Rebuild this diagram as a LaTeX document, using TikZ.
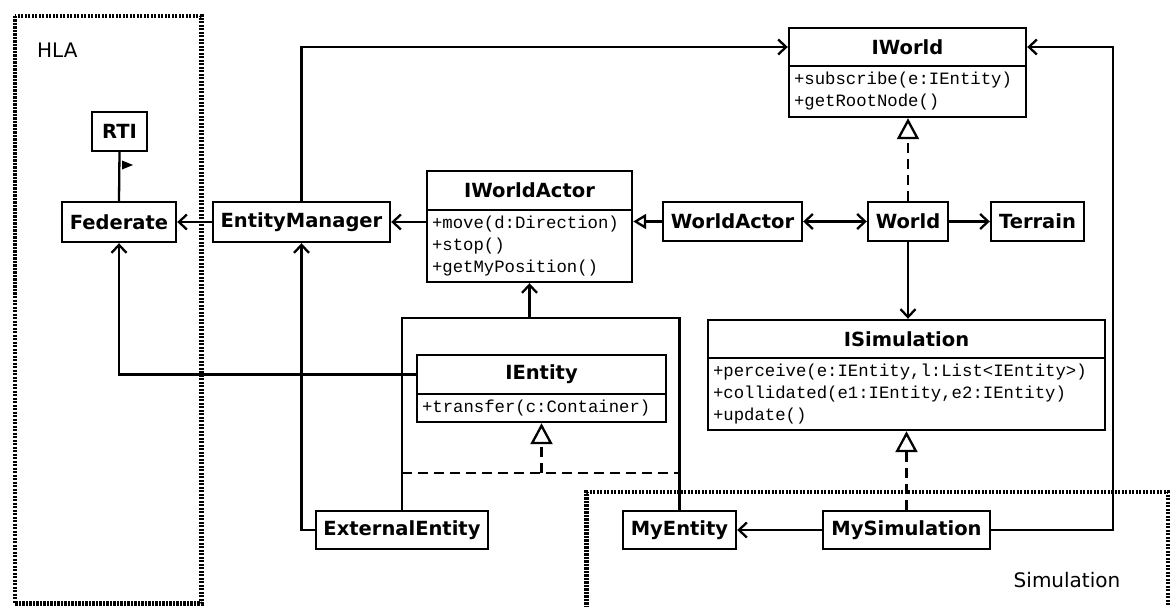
\documentclass[tikz,border=0pt]{standalone}
\usepackage{fontspec}
\setmainfont{DejaVu Sans}
\newfontfamily\methfont{Liberation Mono}
\usetikzlibrary{arrows.meta}

\begin{document}
\begin{tikzpicture}[x=1pt,y=-1pt,
  box/.style={draw, line width=2.4pt, fill=white, inner sep=0pt,
    font=\bfseries\fontsize{19.5}{22}\selectfont, minimum height=39pt},
  ops/.style={draw, line width=2.4pt, fill=white, inner sep=5pt,
    font=\methfont\fontsize{17.3}{22}\selectfont, align=left},
  label/.style={font=\fontsize{20}{24}\selectfont, inner sep=0pt},
  conn/.style={line width=2.3pt},
  assoc/.style={conn, -{Straight Barb[length=8pt,width=15pt]}},
  biassoc/.style={conn, {Straight Barb[length=8pt,width=15pt]}-{Straight Barb[length=8pt,width=15pt]}},
  gen/.style={conn, -{Triangle[open,length=13pt,width=15pt]}},
  realize/.style={conn, dash pattern=on 10pt off 6pt,
    -{Triangle[open,length=21pt,width=22pt]}},
  dashline/.style={conn, dash pattern=on 10pt off 6pt},
  package/.style={line width=4.8pt, dash pattern=on 2.2pt off 1.3pt},
]
\useasboundingbox (0,0) rectangle (1170,607);
\fill[white] (0,0) rectangle (1170,607);

% package frames
\draw[package] (15,16) rectangle (201.7,603.5);
\draw[package] (586.5,615) -- (586.5,492) -- (1168,492) -- (1168,615);
\node[label, anchor=west] (hla) at (37,50) {HLA};
\node[label] (simpkg) at (1067,580) {Simulation};

% classes
\node[box, minimum width=55pt] (rti) at (119.5,131.5) {RTI};
\node[box, minimum width=114pt, minimum height=40pt] (fed) at (119,222) {Federate};
\node[box, minimum width=177pt, minimum height=40pt] (em) at (301.5,222) {EntityManager};

\node[box, minimum width=205pt] (iwa) at (529.5,190.5) {IWorldActor};
\node[ops, minimum width=205pt, text width=195pt, minimum height=72pt] (iwaops) at (529.5,246)
  {+move(d:Direction)\\+stop()\\+getMyPosition()};

\node[box, minimum width=139pt] (wa) at (732.5,221.5) {WorldActor};
\node[box, minimum width=80pt] (world) at (908,221.5) {World};
\node[box, minimum width=93pt] (terrain) at (1037.5,221.5) {Terrain};

\node[box, minimum width=237pt, minimum height=38pt] (iw) at (907.5,47) {IWorld};
\node[ops, minimum width=237pt, text width=227pt, minimum height=51pt] (iwops) at (907.5,91.5)
  {+subscribe(e:IEntity)\\+getRootNode()};

\node[box, minimum width=397pt, minimum height=38pt] (isim) at (906.5,339) {ISimulation};
\node[ops, minimum width=397pt, text width=387pt, minimum height=72pt] (isimops) at (906.5,394)
  {+perceive(e:IEntity,l:List<IEntity>)\\+collidated(e1:IEntity,e2:IEntity)\\+update()};

\node[box, minimum width=249pt] (ient) at (541.5,374.5) {IEntity};
\node[ops, minimum width=249pt, text width=239pt, minimum height=28pt] (ientops) at (541.5,408)
  {+transfer(c:Container)};

\node[box, minimum width=172pt, minimum height=38pt] (ext) at (402,530) {ExternalEntity};
\node[box, minimum width=113pt, minimum height=38pt] (myent) at (679.5,530) {MyEntity};
\node[box, minimum width=167pt, minimum height=38pt] (mysim) at (906.5,530) {MySimulation};

% helper points
\coordinate (topright) at (1113,47);
\coordinate (bus) at (529.5,318);
\coordinate (realbus) at (541.5,473);

% RTI -- Federate with direction marker
\draw[conn] (rti.south) -- (fed.north);
\fill (122,160.5) -- (133,165) -- (122,169.5) -- cycle;

% associations
\draw[assoc] (em.west) -- (fed.east);
\draw[assoc] (em.east -| iwaops.west) -- (em.east);
\draw[gen] (wa.west) -- (wa.west -| iwaops.east);
\draw[biassoc] (wa.east) -- (world.west);
\draw[assoc] (world.east) -- (terrain.west);
\draw[realize] (world.north) -- (world.north |- iwops.south);
\draw[assoc] (world.south) -- (world.south |- isim.north);
\draw[assoc] (em.north) |- (iw.west);
\draw[assoc] (mysim.east) -| (topright) -- (iw.east);
\draw[assoc] (mysim.west) -- (myent.east);
\draw[realize] (mysim.north) -- (mysim.north |- isimops.south);
\draw[assoc] (ient.west) -| (fed.south);
\draw[assoc] (ext.west) -| (em.south);

% ExternalEntity and MyEntity towards IWorldActor
\draw[conn] (ext.north) |- (myent.north |- bus) -- (myent.north);
\draw[assoc] (bus) -- (iwaops.south);

% ExternalEntity and MyEntity realize IEntity
\draw[dashline] (ext.north |- realbus) -- (myent.north |- realbus);
\draw[realize] (realbus) -- (ientops.south);
\end{tikzpicture}
\end{document}
